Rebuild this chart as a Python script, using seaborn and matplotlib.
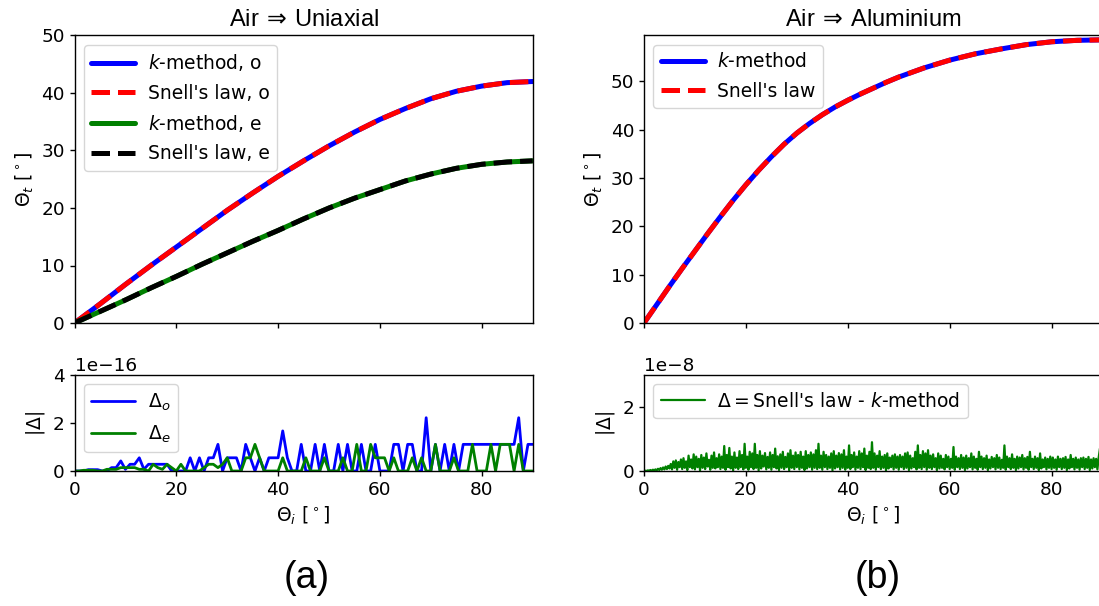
import numpy as np
import matplotlib
matplotlib.use("Agg")
import matplotlib.pyplot as plt
import seaborn as sns

# ---------------- data ----------------
theta_uni = [0, 5, 10, 15, 20, 25, 30, 35, 40, 45, 50, 55, 60, 65, 70, 75, 80, 85, 90]
# Air -> Uniaxial, transmitted angle (deg)
uni_o = [0, 3.3, 6.7, 10.0, 13.2, 16.4, 19.6, 22.6, 25.5, 28.2, 30.8, 33.2, 35.4, 37.3, 39.0, 40.3, 41.2, 41.8, 42.0]
uni_e = [0, 2.0, 4.0, 6.1, 8.1, 10.2, 12.2, 14.2, 16.1, 18.1, 20.0, 21.7, 23.2, 24.7, 25.9, 26.9, 27.6, 28.0, 28.2]
# Air -> Aluminium, transmitted angle (deg)
theta_alu_c = [0, 2.5, 5, 7.5, 10, 12.5, 15, 17.5, 20, 22.5, 25, 27.5, 30, 32.5, 35, 37.5, 40, 42.5, 45,
               47.5, 50, 55, 60, 65, 70, 75, 80, 85, 90]
alu = [0, 3.8, 7.6, 11.3, 14.9, 18.5, 22.0, 25.4, 28.6, 31.6, 34.4, 37.0, 39.3, 41.3, 43.1, 44.7, 46.1, 47.4, 48.6,
       49.8, 50.9, 52.8, 54.4, 55.7, 56.7, 57.6, 58.2, 58.5, 58.6]

# |Delta| for uniaxial case, units of 1e-16 (100 samples over 0..90 deg)
delta_o = [0, 0, 0, 0.055, 0.055, 0.055, 0, 0, 0.14, 0.14,
           0.42, 0.07, 0.28, 0.28, 0.55, 0.07, 0.28, 0.28, 0.28, 0.28,
           0.28, 0, 0, 0, 0, 0.55, 0, 0.55, 0, 0.55,
           0.55, 1.11, 0, 0.55, 0.55, 0.55, 0, 1.11, 0.55, 0,
           0.55, 0, 0.55, 0.55, 0.55, 1.67, 0.55, 0, 0, 1.11,
           0, 0, 1.11, 0, 1.11, 0, 0, 1.11, 0, 1.11,
           0, 0, 1.11, 0, 0, 1.11, 0, 0, 0, 1.11,
           1.11, 0, 1.11, 1.11, 0, 0, 2.22, 0, 1.11, 0,
           1.11, 0, 1.11, 0, 1.11, 1.11, 1.11, 1.11, 1.11, 1.11,
           1.11, 1.11, 1.11, 1.11, 1.11, 1.11, 2.22, 0, 1.11, 1.11]
delta_e = [0, 0, 0.03, 0.03, 0.03, 0, 0, 0.07, 0.07, 0.07,
           0.14, 0.14, 0.14, 0.14, 0.07, 0.07, 0, 0.28, 0.14, 0.07,
           0.28, 0.14, 0, 0.28, 0, 0, 0, 0, 0.14, 0.28,
           0.28, 0.14, 0.28, 0.55, 0, 0, 0, 0.55, 0.55, 1.11,
           0.55, 0, 0, 0, 0, 0.55, 0, 0, 0, 0,
           0.55, 0, 0, 0, 0.55, 0, 0, 0, 0.55, 0,
           0, 1.11, 0, 0, 1.11, 0.55, 0.55, 0.55, 0, 0.55,
           0, 0, 0, 0.55, 0, 0.55, 0, 0, 1.11, 0,
           0, 0, 0.55, 0, 0, 0, 1.11, 0, 0, 0,
           1.11, 0, 1.11, 1.11, 1.11, 0, 1.11, 0, 0, 0]

# |Delta| for aluminium case, units of 1e-8 (361 samples over 0..90 deg)
delta_alu = [
    0.00, 0.01, 0.00, 0.02, 0.01, 0.03, 0.01, 0.04, 0.02, 0.05, 0.02, 0.07, 0.03, 0.09, 0.04, 0.11, 0.05, 0.14, 0.06, 0.16,
    0.08, 0.22, 0.05, 0.30, 0.10, 0.33, 0.04, 0.28, 0.12, 0.36, 0.06, 0.40, 0.10, 0.30, 0.03, 0.48, 0.12, 0.36, 0.08, 0.52,
    0.05, 0.45, 0.12, 0.38, 0.02, 0.50, 0.10, 0.42, 0.06, 0.55, 0.14, 0.35, 0.04, 0.48, 0.10, 0.58, 0.08, 0.40, 0.12, 0.52,
    0.06, 0.45, 0.10, 0.78, 0.04, 0.50, 0.12, 0.72, 0.08, 0.45, 0.02, 0.58, 0.10, 0.42, 0.06, 0.62, 0.12, 0.50, 0.05, 0.85,
    0.10, 0.45, 0.04, 0.60, 0.12, 0.55, 0.06, 0.85, 0.10, 0.50, 0.02, 0.62, 0.08, 0.48, 0.14, 0.56, 0.05, 0.44, 0.10, 0.58,
    0.04, 0.50, 0.12, 0.70, 0.08, 0.46, 0.03, 0.52, 0.10, 0.60, 0.06, 0.44, 0.12, 0.55, 0.02, 0.65, 0.10, 0.48, 0.06, 0.58,
    0.12, 0.50, 0.05, 0.60, 0.10, 0.45, 0.03, 0.62, 0.08, 0.50, 0.12, 0.58, 0.04, 0.52, 0.10, 0.65, 0.06, 0.85, 0.10, 0.48,
    0.04, 0.60, 0.12, 0.50, 0.06, 0.45, 0.10, 0.55, 0.02, 0.62, 0.08, 0.48, 0.12, 0.56, 0.05, 0.52, 0.10, 0.65, 0.04, 0.45,
    0.10, 0.80, 0.06, 0.50, 0.12, 0.58, 0.04, 0.45, 0.10, 0.62, 0.06, 0.55, 0.12, 0.70, 0.03, 0.48, 0.10, 0.60, 0.06, 0.90,
    0.10, 0.55, 0.04, 0.48, 0.12, 0.62, 0.06, 0.45, 0.10, 0.50, 0.02, 0.55, 0.08, 0.42, 0.12, 0.48, 0.05, 0.52, 0.10, 0.45,
    0.04, 0.50, 0.12, 0.45, 0.06, 0.55, 0.10, 0.58, 0.03, 0.48, 0.08, 0.40, 0.12, 0.60, 0.05, 0.80, 0.10, 0.50, 0.06, 0.62,
    0.12, 0.55, 0.04, 0.65, 0.10, 0.48, 0.06, 0.52, 0.12, 0.40, 0.03, 0.55, 0.08, 0.48, 0.10, 0.38, 0.05, 0.50, 0.12, 0.45,
    0.06, 0.38, 0.10, 0.75, 0.04, 0.45, 0.12, 0.40, 0.06, 0.50, 0.10, 0.42, 0.03, 0.48, 0.08, 0.40, 0.12, 0.55, 0.05, 0.45,
    0.10, 0.38, 0.04, 0.60, 0.12, 0.45, 0.06, 0.40, 0.10, 0.48, 0.03, 0.36, 0.08, 0.44, 0.12, 0.40, 0.05, 0.50, 0.10, 0.42,
    0.06, 0.35, 0.10, 0.80, 0.04, 0.45, 0.12, 0.40, 0.06, 0.52, 0.10, 0.38, 0.03, 0.45, 0.08, 0.42, 0.12, 0.50, 0.05, 0.40,
    0.10, 0.44, 0.04, 0.60, 0.12, 0.38, 0.06, 0.45, 0.10, 0.40, 0.03, 0.55, 0.08, 0.36, 0.12, 0.42, 0.05, 0.38, 0.10, 0.45,
    0.06, 0.42, 0.10, 0.36, 0.04, 0.45, 0.12, 0.38, 0.06, 0.40, 0.10, 0.44, 0.03, 0.36, 0.08, 0.50, 0.12, 0.38, 0.05, 0.42,
    0.10, 0.36, 0.04, 0.40, 0.12, 0.42, 0.06, 0.38, 0.10, 0.44, 0.03, 0.36, 0.08, 0.40, 0.12, 0.38, 0.05, 0.42, 0.70, 0.36,
    0.30]

titles = [r"Air$\,\Rightarrow\,$Uniaxial", r"Air$\,\Rightarrow\,$Aluminium"]
panel_labels = ["(a)", "(b)"]

assert len(delta_o) == 100 and len(delta_e) == 100 and len(delta_alu) == 361
assert len(theta_alu_c) == len(alu)

theta_fine = np.linspace(0, 90, len(delta_o))
theta_alu = np.linspace(0, 90, len(delta_alu))

# ---------------- style ----------------
sns.set_style("ticks")
plt.rcParams.update({
    "font.family": ["DejaVu Sans"],
    "font.size": 13.3,
    "axes.edgecolor": "black",
    "axes.linewidth": 1.0,
    "xtick.color": "black",
    "ytick.color": "black",
    "xtick.labelsize": 13.3,
    "ytick.labelsize": 13.3,
    "axes.labelsize": 13.5,
    "xtick.major.size": 3.5,
    "ytick.major.size": 3.5,
    "xtick.major.width": 1.0,
    "ytick.major.width": 1.0,
    "text.color": "black",
    "axes.labelcolor": "black",
    "legend.fontsize": 13.5,
    "mathtext.fontset": "dejavusans",
})

W, H = 1099, 606
fig = plt.figure(figsize=(W / 100, H / 100), dpi=100)

def box(x0, x1, y0, y1):
    return [x0 / W, 1 - y1 / H, (x1 - x0) / W, (y1 - y0) / H]

axA = fig.add_axes(box(74.5, 532.6, 35.5, 323))
axAd = fig.add_axes(box(74.5, 532.6, 375, 471))
axB = fig.add_axes(box(644, 1102.5, 35.5, 323))
axBd = fig.add_axes(box(644, 1102.5, 375, 471))

LW = 3.6
leg_kw = dict(loc="upper left", handlelength=2.35, handletextpad=0.65, labelspacing=0.55)

# --- (a) top
sns.lineplot(x=theta_uni, y=uni_o, ax=axA, color="blue", lw=LW, label=r"$k$-method, o")
sns.lineplot(x=theta_uni, y=uni_o, ax=axA, color="red", lw=LW, linestyle="--", label="Snell's law, o")
sns.lineplot(x=theta_uni, y=uni_e, ax=axA, color="green", lw=LW, label=r"$k$-method, e")
sns.lineplot(x=theta_uni, y=uni_e, ax=axA, color="black", lw=LW, linestyle="--", label="Snell's law, e")
axA.set_xlim(0, 90)
axA.set_ylim(0, 50)
axA.set_yticks([0, 10, 20, 30, 40, 50])
axA.set_xticks([0, 20, 40, 60, 80])
axA.set_xticklabels([])
axA.set_ylabel(r"$\Theta_t$ [$^\circ$]")
axA.legend(**leg_kw)

# --- (a) bottom
sns.lineplot(x=theta_fine, y=np.array(delta_o) * 1e-16, ax=axAd, color="blue", lw=2.0, label=r"$\Delta_o$")
sns.lineplot(x=theta_fine, y=np.array(delta_e) * 1e-16, ax=axAd, color="green", lw=2.0, label=r"$\Delta_e$")
axAd.set_xlim(0, 90)
axAd.set_ylim(0, 4e-16)
axAd.set_yticks([0, 2e-16, 4e-16])
axAd.set_xticks([0, 20, 40, 60, 80])
axAd.set_xlabel(r"$\Theta_i$ [$^\circ$]")
axAd.set_ylabel(r"$|\Delta|$")
axAd.legend(**leg_kw)

# --- (b) top
sns.lineplot(x=theta_alu_c, y=alu, ax=axB, color="blue", lw=LW, label=r"$k$-method")
sns.lineplot(x=theta_alu_c, y=alu, ax=axB, color="red", lw=LW, linestyle="--", label="Snell's law")
axB.set_xlim(0, 90)
axB.set_ylim(0, 59.5)
axB.set_yticks([0, 10, 20, 30, 40, 50])
axB.set_xticks([0, 20, 40, 60, 80])
axB.set_xticklabels([])
axB.set_ylabel(r"$\Theta_t$ [$^\circ$]")
axB.legend(**leg_kw)

# --- (b) bottom
sns.lineplot(x=theta_alu, y=np.array(delta_alu) * 1e-8, ax=axBd, color="green", lw=1.6,
             label=r"$\Delta=$Snell's law - $k$-method")
axBd.set_xlim(0, 90)
axBd.set_ylim(0, 3e-8)
axBd.set_yticks([0, 2e-8])
axBd.set_xticks([0, 20, 40, 60, 80])
axBd.set_xlabel(r"$\Theta_i$ [$^\circ$]")
axBd.set_ylabel(r"$|\Delta|$")
axBd.legend(**leg_kw)

for ax in (axA, axAd, axB, axBd):
    for s in ax.spines.values():
        s.set_visible(True)
        s.set_color("black")

# titles & panel labels
for ax, t in ((axA, titles[0]), (axB, titles[1])):
    ax.set_title(t, fontsize=17, family=["Liberation Sans"], pad=7)
fig.text(307 / W, 1 - 578 / H, panel_labels[0], ha="center", va="center",
         fontsize=27, family=["Liberation Sans"])
fig.text(878 / W, 1 - 578 / H, panel_labels[1], ha="center", va="center",
         fontsize=27, family=["Liberation Sans"])

fig.savefig("out.png", dpi=100)
